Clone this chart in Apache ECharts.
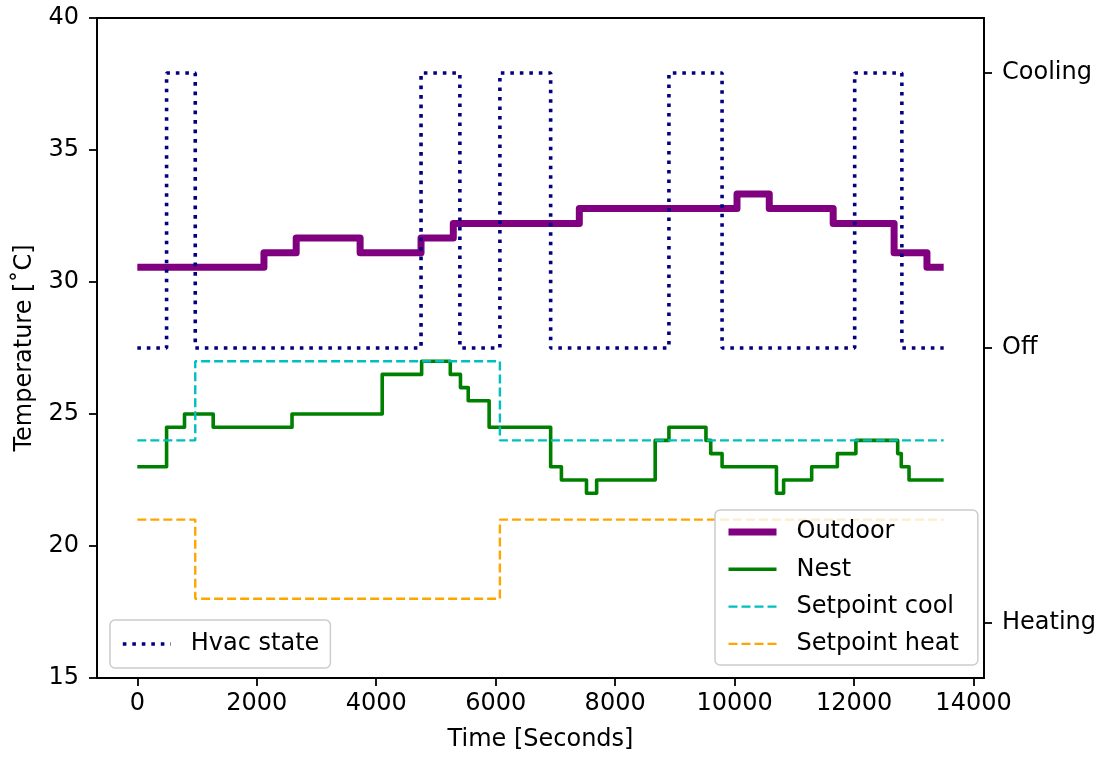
<!DOCTYPE html>
<html><head><meta charset="utf-8">
<script src="https://cdn.jsdelivr.net/npm/echarts@6/dist/echarts.min.js"></script>
<style>html,body{margin:0;padding:0;background:#fff}#c{width:1108px;height:757px}</style>
</head><body><div id="c"></div>
<script>
// ---- data (step points: value holds from time until next time) ----
const outdoorTime = [0, 2120, 2660, 3730, 4750, 5290, 7400, 10040, 10580, 11650, 12670, 13220, 13500];
const outdoorTemp = [30.56, 31.11, 31.67, 31.11, 31.67, 32.22, 32.78, 33.33, 32.78, 32.22, 31.11, 30.56, 30.56];

const nestTime = [0, 490, 790, 1270, 2590, 4100, 4760, 5240, 5410, 5540, 5890, 6920, 7100, 7520, 7690, 8670, 8900, 9520, 9600, 9790, 10700, 10820, 11290, 11720, 12030, 12730, 12790, 12920, 13500];
const nestTemp = [23.0, 24.5, 25.0, 24.5, 25.0, 26.5, 27.0, 26.5, 26.0, 25.5, 24.5, 23.0, 22.5, 22.0, 22.5, 24.0, 24.5, 24.0, 23.5, 23.0, 22.0, 22.5, 23.0, 23.5, 24.0, 23.5, 23.0, 22.5, 22.5];

const coolTime = [0, 970, 6070, 13500];
const coolTemp = [24, 27, 24, 24];

const heatTime = [0, 970, 6070, 13500];
const heatTemp = [21, 18, 21, 21];

const hvacTime = [0, 490, 970, 4750, 5400, 6070, 6920, 8900, 9790, 12010, 12800, 13500];
const hvacState = ['Off', 'Cooling', 'Off', 'Cooling', 'Off', 'Cooling', 'Off', 'Cooling', 'Off', 'Cooling', 'Off', 'Off'];

const hvacLabels = ['Heating', 'Off', 'Cooling'];
const xTicks = [0, 2000, 4000, 6000, 8000, 10000, 12000, 14000];

// ---- build ----
const zip = (a, b) => a.map((t, i) => [t, b[i]]);
const hvacData = hvacTime.map((t, i) => [t, hvacLabels.indexOf(hvacState[i])]);

const FONT = 'DejaVu Sans';
const axisLine = { show: true, onZero: false, lineStyle: { color: '#000', width: 1.8 } };
const axisTick = { show: true, inside: false, length: 8, lineStyle: { color: '#000', width: 1.8 } };
const labelStyle = { color: '#000', fontSize: 24, fontFamily: FONT };
const legendCommon = {
  orient: 'vertical', itemWidth: 48, itemHeight: 14,
  backgroundColor: 'rgba(255,255,255,0.8)', borderColor: '#cccccc', borderWidth: 1.5, borderRadius: 5,
  textStyle: { color: '#000', fontSize: 24, fontFamily: FONT, lineHeight: 24, padding: [0, 0, 0, 15] },
  itemStyle: { color: 'transparent', borderColor: 'transparent', borderWidth: 0, opacity: 0 },
  lineStyle: { width: 'inherit' },
  selectedMode: false, z: 10
};

const chart = echarts.init(document.getElementById('c'), null, { renderer: 'canvas' });
chart.setOption({
  animation: false,
  backgroundColor: '#fff',
  grid: { left: 97, right: 124, top: 18, bottom: 79, show: true, borderColor: '#000', borderWidth: 1.8, backgroundColor: 'transparent' },
  xAxis: {
    type: 'value', min: -675, max: 14175,
    axisLine: axisLine,
    axisTick: Object.assign({}, axisTick, { customValues: xTicks }),
    axisLabel: Object.assign({}, labelStyle, { customValues: xTicks, margin: 14, formatter: v => String(v) }),
    splitLine: { show: false },
    name: 'Time [Seconds]', nameLocation: 'middle', nameGap: 50,
    nameTextStyle: { color: '#000', fontSize: 24, fontFamily: FONT }
  },
  yAxis: [
    {
      type: 'value', min: 15, max: 40, interval: 5, position: 'left',
      axisLine: axisLine, axisTick: axisTick,
      axisLabel: Object.assign({}, labelStyle, { margin: 18 }),
      splitLine: { show: false },
      name: 'Temperature [˚C]', nameLocation: 'middle', nameGap: 60, nameRotate: 90,
      nameTextStyle: { color: '#000', fontSize: 24, fontFamily: FONT }
    },
    {
      type: 'value', min: -0.2, max: 2.2, position: 'right',
      axisLine: axisLine,
      axisTick: Object.assign({}, axisTick, { customValues: [0, 1, 2] }),
      axisLabel: Object.assign({}, labelStyle, {
        customValues: [0, 1, 2], margin: 18,
        formatter: v => hvacLabels[Math.round(v)] || ''
      }),
      splitLine: { show: false }
    }
  ],
  legend: [
    Object.assign({}, legendCommon, {
      data: ['Outdoor', 'Nest', 'Setpoint cool', 'Setpoint heat'],
      left: 715, top: 510, padding: [10, 19, 9, 10], itemGap: 13.3
    }),
    Object.assign({}, legendCommon, {
      data: ['Hvac state'],
      left: 110, top: 620, padding: [12, 11, 12, 11]
    })
  ],
  series: [
    {
      name: 'Outdoor', type: 'line', step: 'end', symbol: 'none', data: zip(outdoorTime, outdoorTemp),
      lineStyle: { color: '#800080', width: 7, join: 'round' }, itemStyle: { color: '#800080' }, z: 2
    },
    {
      name: 'Nest', type: 'line', step: 'end', symbol: 'none', data: zip(nestTime, nestTemp),
      lineStyle: { color: '#008000', width: 3.6, join: 'round' }, itemStyle: { color: '#008000' }, z: 3
    },
    {
      name: 'Setpoint cool', type: 'line', step: 'end', symbol: 'none', data: zip(coolTime, coolTemp),
      lineStyle: { color: '#00bfbf', width: 2.4, type: [9, 4] }, itemStyle: { color: '#00bfbf' }, z: 4
    },
    {
      name: 'Setpoint heat', type: 'line', step: 'end', symbol: 'none', data: zip(heatTime, heatTemp),
      lineStyle: { color: '#ffa500', width: 2.4, type: [9, 4] }, itemStyle: { color: '#ffa500' }, z: 5
    },
    {
      name: 'Hvac state', type: 'line', step: 'end', symbol: 'none', yAxisIndex: 1, data: hvacData,
      lineStyle: { color: '#000080', width: 3.6, type: [3.6, 5.9], cap: 'butt' }, itemStyle: { color: '#000080' }, z: 6
    }
  ]
});
</script>
</body></html>
